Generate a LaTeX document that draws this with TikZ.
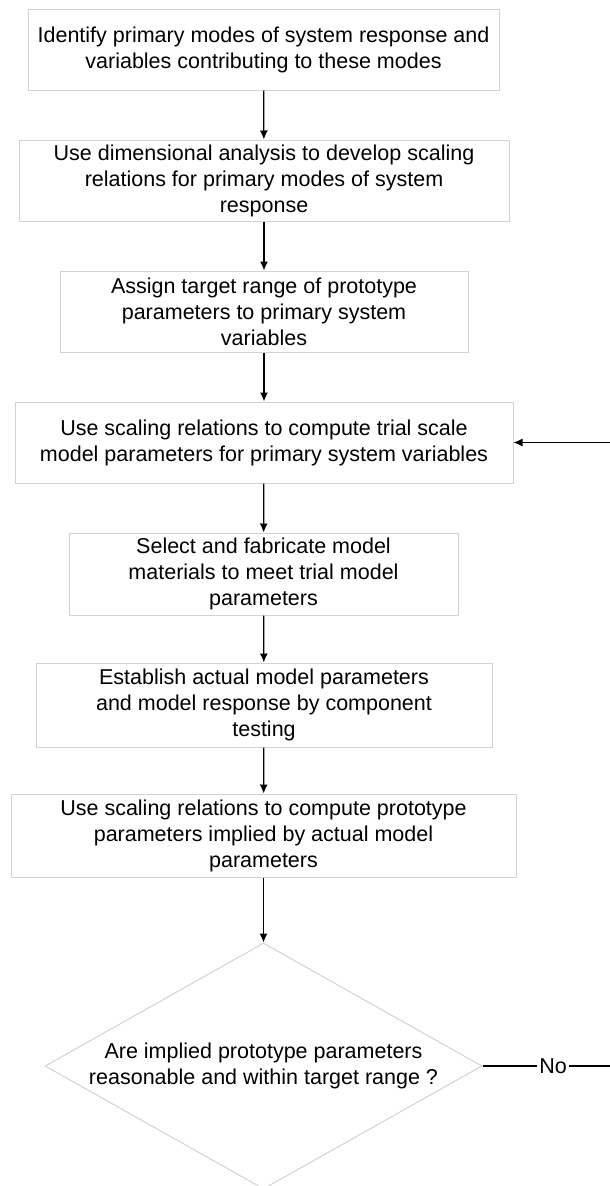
\documentclass[tikz,border=0pt]{standalone}
\usepackage{fontspec}
\setmainfont{Liberation Sans}
\usetikzlibrary{shapes.geometric,arrows.meta}

\definecolor{boxgray}{RGB}{210,210,210}

\tikzset{
  stepbox/.style={draw=boxgray, line width=1pt, inner sep=0pt, align=center,
    font=\fontsize{21.5}{26}\selectfont},
  testbox/.style={stepbox, shape=diamond, aspect=1.78},
  flow/.style={->, >={Latex[length=9pt,width=8pt]}, line width=1.3pt},
}

\begin{document}
\begin{tikzpicture}[x=1pt,y=-1pt]

  \useasboundingbox (0,0) rectangle (610,1186);

  % the steps, top to bottom
  \node[stepbox, minimum width=471pt, minimum height=81pt] (identify) at (263.5,49.5)
    {Identify primary modes of system response and\\variables contributing to these modes};
  \node[stepbox, minimum width=490pt, minimum height=81pt] (dimension) at (264,180.5)
    {Use dimensional analysis to develop scaling\\relations for primary modes of system\\response};
  \node[stepbox, minimum width=408pt, minimum height=81pt] (assign) at (264,311.5)
    {Assign target range of prototype\\parameters to primary system\\variables};
  \node[stepbox, minimum width=498pt, minimum height=81pt] (trial) at (264,442.5)
    {Use scaling relations to compute trial scale\\model parameters for primary system variables};
  \node[stepbox, minimum width=389pt, minimum height=82pt] (fabricate) at (263.5,574)
    {Select and fabricate model\\materials to meet trial model\\parameters};
  \node[stepbox, minimum width=456pt, minimum height=84pt] (testing) at (264,705)
    {Establish actual model parameters\\and model response by component\\testing};
  \node[stepbox, minimum width=505pt, minimum height=83pt] (implied) at (263.5,835.5)
    {Use scaling relations to compute prototype\\parameters implied by actual model\\parameters};

  % the check
  \node[testbox, minimum width=437pt, minimum height=246pt] (check) at (263.5,1066)
    {Are implied prototype parameters\\reasonable and within target range ?};

  \draw[flow] (identify) -- (dimension);
  \draw[flow] (dimension) -- (assign);
  \draw[flow] (assign) -- (trial);
  \draw[flow] (trial) -- (fabricate);
  \draw[flow] (fabricate) -- (testing);
  \draw[flow] (testing) -- (implied);
  \draw[flow] (implied) -- (check.north);

  % loop back when the check fails
  \node[font=\fontsize{21.5}{26}\selectfont, inner sep=2pt] (no) at (553,1066) {No};
  \coordinate (backlow) at (611,1066);
  \coordinate (backhigh) at (611,442.5);
  \draw[line width=1.3pt] (check.east) -- (no.west);
  \draw[flow] (no.east) -- (backlow) -- (backhigh) -- (trial.east);

\end{tikzpicture}
\end{document}
